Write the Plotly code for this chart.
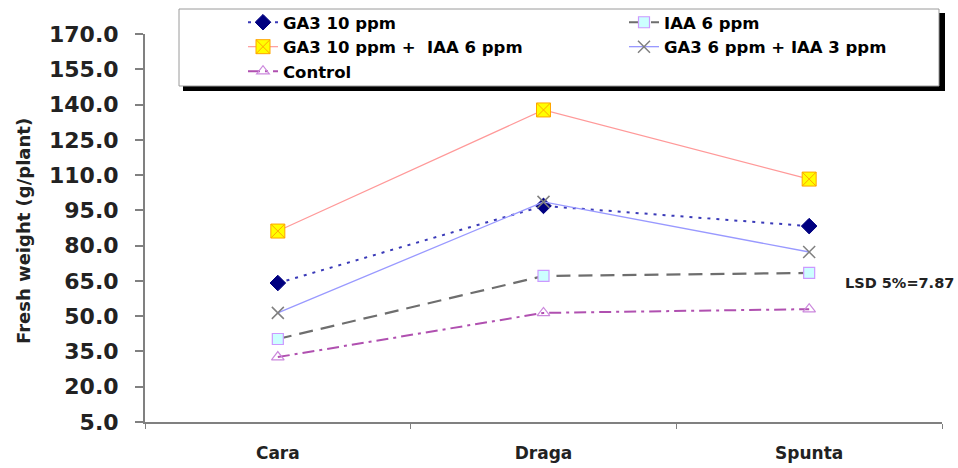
import plotly.graph_objects as go

# Potato cultivars and fresh weight per treatment (g/plant)
cultivars = ["Cara", "Draga", "Spunta"]
ga3_10 = [64.1, 96.9, 88.3]
iaa_6 = [40.3, 67.1, 68.4]
ga3_10_iaa_6 = [86.2, 137.7, 108.3]
ga3_6_iaa_3 = [51.4, 98.6, 77.3]
control = [32.6, 51.4, 53.0]

series_names = [
    "GA3 10 ppm",
    "IAA 6 ppm",
    "GA3 10 ppm +\u00a0 IAA 6 ppm",
    "GA3 6 ppm + IAA 3 ppm",
    "Control",
]
y_title = "Fresh weight (g/plant)"
lsd_note = "LSD 5%=7.87"
y_ticks = list(range(5, 171, 15))

FONT = "DejaVu Sans, Arial, sans-serif"
W, H = 958, 468
L, R, T, B = 145, 16, 34, 46
PW, PH = W - L - R, H - T - B


def px_x(px):
    return (px - L) / PW


def px_y(py):
    return (H - B - py) / PH


styles = [
    dict(line=dict(color="#3a3ab8", width=2, dash="3px,6px"),
         marker=dict(symbol="diamond", size=12, color="#000080",
                     line=dict(color="#000080", width=1))),
    dict(line=dict(color="#6e6e6e", width=2.2, dash="14px,8px"),
         marker=dict(symbol="square", size=11, color="#ccffff",
                     line=dict(color="#cc99ff", width=1.2))),
    dict(line=dict(color="#ff9999", width=1.2),
         marker=dict(symbol="square-x", size=14, color="#ffff00",
                     line=dict(color="#ffa500", width=1))),
    dict(line=dict(color="#9999ff", width=1.3),
         marker=dict(symbol="x-thin", size=12, color="#808080",
                     line=dict(color="#808080", width=1.5))),
    dict(line=dict(color="#b050b0", width=2, dash="12px,5px,3px,5px"),
         marker=dict(symbol="triangle-up-open", size=11, color="#cc88dd",
                     line=dict(color="#cc88dd", width=1.2))),
]
values = [ga3_10, iaa_6, ga3_10_iaa_6, ga3_6_iaa_3, control]

fig = go.Figure()
for name, vals, st in zip(series_names, values, styles):
    fig.add_trace(go.Scatter(x=cultivars, y=vals, name=name,
                             mode="lines+markers", **st))

# Legend frame with a solid drop shadow
shapes = [
    dict(type="rect", xref="paper", yref="paper",
         x0=px_x(183), x1=px_x(945), y0=px_y(91), y1=px_y(13),
         fillcolor="black", line=dict(width=0), layer="above"),
    dict(type="rect", xref="paper", yref="paper",
         x0=px_x(179), x1=px_x(939), y0=px_y(86), y1=px_y(9),
         fillcolor="white", line=dict(color="#9a9a9a", width=1), layer="above"),
]

fig.update_layout(
    width=W, height=H,
    margin=dict(l=L, r=R, t=T, b=B, autoexpand=False),
    paper_bgcolor="white", plot_bgcolor="white",
    font=dict(family=FONT, color="black"),
    shapes=shapes,
    showlegend=True,
    legend=dict(
        orientation="h", xref="paper", yref="paper",
        x=px_x(243), y=px_y(5), xanchor="left", yanchor="top",
        entrywidth=336, entrywidthmode="pixels",
        bgcolor="rgba(0,0,0,0)", borderwidth=0,
        font=dict(family=FONT, size=16.5, weight="bold", color="black"),
        tracegroupgap=0, itemsizing="trace",
    ),
    xaxis=dict(
        type="category", range=[-0.5, 2.5],
        showline=True, linecolor="#808080", linewidth=2,
        ticks="outside", tickson="boundaries", ticklen=5, tickcolor="#808080",
        tickfont=dict(family=FONT, size=17, weight="bold", color="#222"),
        ticklabelstandoff=15, showgrid=False, zeroline=False,
    ),
    yaxis=dict(
        range=[5, 170], tickvals=y_ticks, tickformat=".1f",
        showline=True, linecolor="#808080", linewidth=2,
        ticks="outside", ticklen=8, tickcolor="#808080", tickwidth=2,
        tickfont=dict(family=FONT, size=22, weight="bold", color="#222"),
        ticklabelstandoff=12, showgrid=False, zeroline=False,
    ),
    annotations=[
        dict(text=y_title, xref="paper", yref="paper",
             x=px_x(23), y=px_y(231), xanchor="center", yanchor="middle",
             textangle=-90, showarrow=False,
             font=dict(family=FONT, size=18, weight="bold", color="#222")),
        dict(text=lsd_note, xref="paper", yref="paper",
             x=px_x(843), y=px_y(283), xanchor="left", yanchor="middle",
             showarrow=False,
             font=dict(family=FONT, size=14.5, weight="bold", color="#222")),
    ],
)

fig.write_html("out.html")
